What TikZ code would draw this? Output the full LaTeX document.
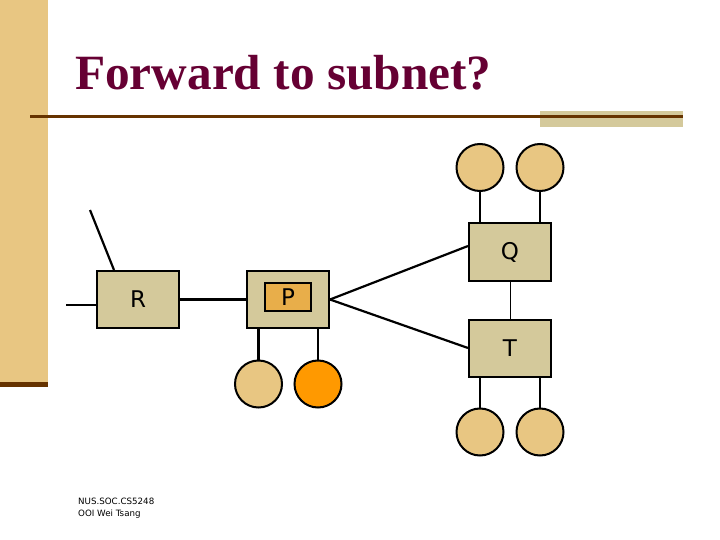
\documentclass[tikz,border=0pt]{standalone}
\usepackage{fontspec}
\setmainfont{Liberation Serif}
\newfontfamily\etiqueta{DejaVu Sans}
\usetikzlibrary{positioning}
\usepackage{xcolor}
\definecolor{Arena}{RGB}{232, 198, 130}
\definecolor{Cafe}{RGB}{102, 51, 0}
\definecolor{Caqui}{RGB}{212, 201, 155}
\definecolor{Vino}{RGB}{102, 0, 51}
\definecolor{Mostaza}{RGB}{232, 174, 74}
\definecolor{Naranja}{RGB}{255, 153, 0}

\tikzset{
	caja/.style={draw=black, line width=2pt, fill=Caqui, minimum width=82pt, minimum height=57pt, inner sep=0pt, font=\etiqueta\fontsize{23}{23}\selectfont},
	host/.style={circle, draw=black, line width=2pt, fill=Arena, minimum size=47pt, inner sep=0pt},
	enlace/.style={line width=2.2pt}
}

\begin{document}
\begin{tikzpicture}[x=1pt, y=-1pt]
	\useasboundingbox (0,0) rectangle (720,540);
	% Fondo de la diapositiva
	\fill[Arena] (0,0) rectangle (48,382);
	\fill[Cafe] (0,382) rectangle (48,387);
	\fill[Caqui] (540,111) rectangle (683,127);
	\draw[Cafe, line width=3pt] (30,117) -- (683,117);
	\node[anchor=base west, inner sep=0pt, text=Vino, font=\bfseries\fontsize{49.3}{50}\selectfont] (titulo) at (75,90) {Forward to subnet?};

	% Encaminadores y redes
	\node[caja] (R) at (138,299.5) {R};
	\node[caja] (P) at (288,299.5) {};
	\node[caja, fill=Mostaza, minimum width=46pt, minimum height=28pt] (Pin) at (288,297) {P};
	\node[caja] (Q) at (510,252) {Q};
	\node[caja] (T) at (510,348) {T};

	\node[host] (p1) at (258.5,384) {};
	\node[host, fill=Naranja] (p2) at (318,384) {};
	\node[host] (q1) at (480,167.5) {};
	\node[host] (q2) at (540,167.5) {};
	\node[host] (t1) at (480,432) {};
	\node[host] (t2) at (540,432) {};

	\coordinate (rw) at (66,305);
	\coordinate (rn) at (90,210);

	\draw[enlace] (rw) -- (rw -| R.west);
	\draw[enlace] (rn) -- ([xshift=18pt]R.north west);
	\draw[enlace] (R.east) -- (P.west);
	\draw[enlace] (P.east) -- ([yshift=6pt]Q.west);
	\draw[enlace] (P.east) -- (T.west);
	\draw[line width=0.8pt] (Q) -- (T);
	\draw[enlace] (p1) -- (p1 |- P.south);
	\draw[enlace] (p2) -- (p2 |- P.south);
	\draw[enlace] (q1) -- (q1 |- Q.north);
	\draw[enlace] (q2) -- (q2 |- Q.north);
	\draw[enlace] (t1) -- (t1 |- T.south);
	\draw[enlace] (t2) -- (t2 |- T.south);

	% Pie de la diapositiva
	\node[anchor=west, inner sep=0pt, font=\etiqueta\fontsize{8.7}{12}\selectfont, align=left] (pie) at (78,508) {NUS.SOC.CS5248\\OOI Wei Tsang};
\end{tikzpicture}
\end{document}
